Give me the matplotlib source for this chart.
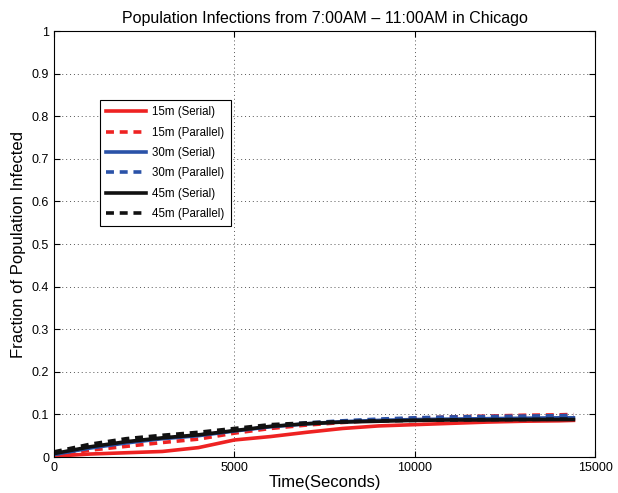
import matplotlib
matplotlib.use('Agg')
import matplotlib.pyplot as plt

plt.rcParams['font.family'] = ['Liberation Sans', 'DejaVu Sans']

# time axis (seconds) and fraction infected per run
time_s = [0, 1000, 2000, 3000, 4000, 5000, 6000, 7000, 8000, 9000,
          10000, 11000, 12000, 13000, 14000, 14400]
red_serial = [0.002, 0.007, 0.010, 0.013, 0.022, 0.040, 0.048, 0.058,
              0.067, 0.073, 0.076, 0.079, 0.082, 0.084, 0.085, 0.086]
red_parallel = [0.003, 0.016, 0.025, 0.034, 0.042, 0.056, 0.067, 0.075,
                0.081, 0.087, 0.091, 0.094, 0.096, 0.098, 0.099, 0.100]
blue_serial = [0.006, 0.021, 0.033, 0.043, 0.050, 0.061, 0.071, 0.078,
               0.083, 0.086, 0.088, 0.089, 0.090, 0.091, 0.092, 0.092]
blue_parallel = [0.006, 0.022, 0.035, 0.044, 0.052, 0.063, 0.073, 0.080,
                 0.085, 0.089, 0.092, 0.094, 0.095, 0.096, 0.097, 0.098]
black_serial = [0.008, 0.024, 0.036, 0.045, 0.052, 0.062, 0.072, 0.078,
                0.082, 0.084, 0.086, 0.087, 0.087, 0.088, 0.088, 0.088]
black_parallel = [0.012, 0.030, 0.043, 0.051, 0.058, 0.067, 0.076, 0.080,
                  0.083, 0.085, 0.086, 0.087, 0.088, 0.088, 0.089, 0.089]

labels = ['15m (Serial)', '15m (Parallel)', '30m (Serial)',
          '30m (Parallel)', '45m (Serial)', '45m (Parallel)']

red = '#ee2222'
blue = '#2a52a8'
black = '#111111'

fig = plt.figure(figsize=(6.18, 4.93), dpi=100)
ax = fig.add_axes([0.0874, 0.073, 0.8755, 0.864])

dash = (0, (2.2, 1.6))
ax.plot(time_s, red_serial, color=red, lw=2.6, label=labels[0])
ax.plot(time_s, red_parallel, color=red, lw=2.6, ls=dash, label=labels[1])
ax.plot(time_s, blue_serial, color=blue, lw=2.6, label=labels[2])
ax.plot(time_s, blue_parallel, color=blue, lw=2.6, ls=dash, label=labels[3])
ax.plot(time_s, black_serial, color=black, lw=2.6, label=labels[4])
ax.plot(time_s, black_parallel, color=black, lw=2.6, ls=dash, label=labels[5])

ax.set_xlim(0, 15000)
ax.set_ylim(0, 1)
ax.set_xticks([0, 5000, 10000, 15000])
ax.set_yticks([i / 10 for i in range(11)])
ax.set_yticklabels(['0', '0.1', '0.2', '0.3', '0.4', '0.5', '0.6', '0.7',
                    '0.8', '0.9', '1'])
ax.tick_params(direction='in', top=True, right=True, labelsize=9, length=4)
ax.grid(True, ls=(0, (1, 3)), color='#555555', lw=0.7)

ax.set_title('Population Infections from 7:00AM \u2013 11:00AM in Chicago',
             fontsize=11.5)
ax.set_xlabel('Time(Seconds)', fontsize=12, labelpad=1)
ax.set_ylabel('Fraction of Population Infected', fontsize=12)

leg = ax.legend(loc='upper left', bbox_to_anchor=(0.085, 0.838), fontsize=8.3,
                fancybox=False, framealpha=1, edgecolor='black',
                handlelength=3.4, borderpad=0.55, labelspacing=0.72,
                handletextpad=0.6, borderaxespad=0)
leg.get_frame().set_linewidth(0.8)

fig.savefig('out.png', dpi=100)
